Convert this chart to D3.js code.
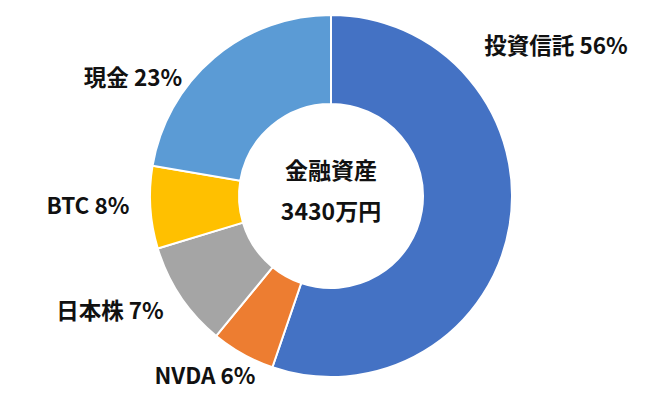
<!DOCTYPE html>
<html>
<head>
<meta charset="utf-8">
<script src="https://cdn.jsdelivr.net/npm/d3@7"></script>
<style>
  body { margin: 0; background: #fff; }
  text { font-family: "Noto Sans CJK JP", "Noto Sans", sans-serif; font-weight: bold; fill: #111; }
</style>
</head>
<body>
<div class="donut-chart"></div>
<script>
// slices, clockwise from 12 o'clock (万円)
var categories = ["投資信託", "NVDA", "日本株", "BTC", "現金"];
var amounts = [1895, 195, 322, 252, 766];
var pctLabels = ["56%", "6%", "7%", "8%", "23%"];
var centerLines = ["金融資産", "3430万円"];

var colors = ["#4472C4", "#ED7D31", "#A5A5A5", "#FFC000", "#5B9BD5"];
// hand-placed label centres (Excel style)
var labelAt = [[556, 54], [205, 384], [110, 319], [88, 214], [133, 86]];

var width = 648, height = 393;
var cx = 331, cy = 196;
var outerR = 181, innerR = 92;

var data = categories.map(function(c, i) {
  return {name: c, value: amounts[i], pct: pctLabels[i], idx: i};
});

var pie = d3.pie()
    .sort(null)
    .value(function(d) { return d.value; });

var arc = d3.arc()
    .outerRadius(outerR)
    .innerRadius(innerR);

var svg = d3.select(".donut-chart").append("svg")
    .attr("width", width)
    .attr("height", height);

var g = svg.append("g")
    .attr("transform", "translate(" + cx + "," + cy + ")");

g.selectAll(".arc")
    .data(pie(data))
  .enter().append("path")
    .attr("class", "arc")
    .attr("d", arc)
    .style("fill", function(d) { return colors[d.data.idx]; })
    .style("stroke", "#fff")
    .style("stroke-width", 2);

svg.selectAll(".lbl")
    .data(data)
  .enter().append("text")
    .attr("class", "lbl")
    .attr("x", function(d) { return labelAt[d.idx][0]; })
    .attr("y", function(d) { return labelAt[d.idx][1]; })
    .attr("text-anchor", "middle")
    .style("font-size", "22.5px")
    .text(function(d) { return d.name + " " + d.pct; });

g.selectAll(".center")
    .data(centerLines)
  .enter().append("text")
    .attr("class", "center")
    .attr("x", 0)
    .attr("y", function(d, i) { return -17 + i * 41; })
    .attr("text-anchor", "middle")
    .style("font-size", "23px")
    .text(function(d) { return d; });
</script>
</body>
</html>
